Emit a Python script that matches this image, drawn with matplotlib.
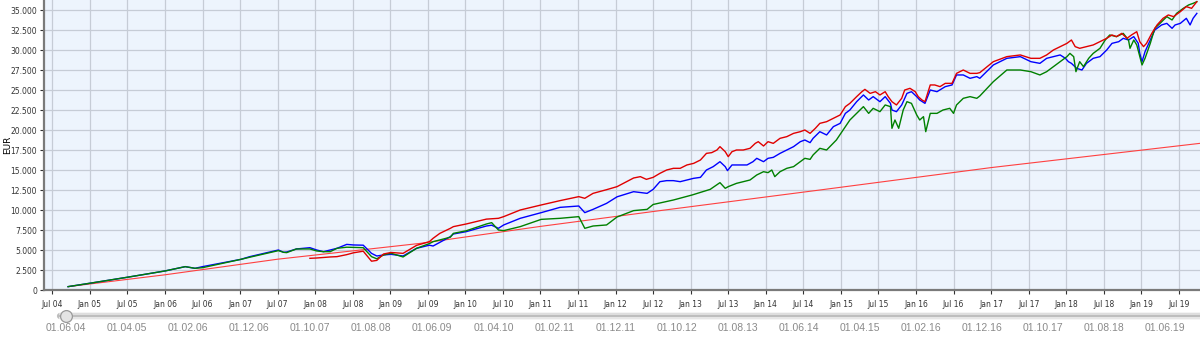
import matplotlib
matplotlib.use("Agg")
import matplotlib.pyplot as plt
from matplotlib.ticker import FuncFormatter, MultipleLocator

# (decimal year, EUR)
blue_pts = [
    (2004.71, 420), (2004.99, 830), (2005.49, 1580), (2006.00, 2380), (2006.27, 2920),
    (2006.40, 2710), (2006.50, 2920), (2007.01, 3830), (2007.13, 4170), (2007.51, 5000),
    (2007.58, 4710), (2007.62, 4750), (2007.75, 5130), (2007.93, 5290), (2008.02, 5000),
    (2008.11, 4790), (2008.20, 5000), (2008.29, 5210), (2008.42, 5700), (2008.51, 5630),
    (2008.64, 5600), (2008.75, 4580), (2008.82, 4250), (2008.91, 4380), (2009.01, 4460),
    (2009.17, 4250), (2009.35, 5210), (2009.52, 5600), (2009.57, 5500), (2009.80, 6670),
    (2009.84, 7000), (2010.01, 7290), (2010.28, 8000), (2010.35, 8100), (2010.44, 7710),
    (2010.51, 8130), (2010.73, 8960), (2011.01, 9670), (2011.26, 10330), (2011.51, 10500),
    (2011.59, 9670), (2011.70, 10080), (2011.88, 10830), (2012.02, 11650), (2012.24, 12290),
    (2012.42, 12080), (2012.50, 12580), (2012.59, 13540), (2012.68, 13670), (2012.77, 13670),
    (2012.86, 13540), (2012.95, 13750), (2013.04, 13960), (2013.13, 14080), (2013.21, 15000),
    (2013.30, 15420), (2013.39, 16040), (2013.46, 15420), (2013.49, 14920), (2013.55, 15630),
    (2013.66, 15630), (2013.75, 15630), (2013.83, 16040), (2013.88, 16460), (2013.97, 16040),
    (2014.03, 16460), (2014.10, 16580), (2014.19, 17080), (2014.28, 17500), (2014.37, 17920),
    (2014.46, 18540), (2014.52, 18750), (2014.59, 18420), (2014.63, 18960), (2014.72, 19790),
    (2014.81, 19380), (2014.90, 20420), (2014.99, 20830), (2015.06, 22080), (2015.12, 22500),
    (2015.21, 23540), (2015.30, 24380), (2015.37, 23750), (2015.43, 24170), (2015.52, 23540),
    (2015.59, 24170), (2015.66, 23330), (2015.68, 22500), (2015.74, 22290), (2015.81, 23130),
    (2015.88, 24580), (2015.94, 24790), (2016.01, 24170), (2016.05, 23750), (2016.12, 23330),
    (2016.19, 25000), (2016.28, 24790), (2016.39, 25420), (2016.48, 25630), (2016.54, 26880),
    (2016.63, 26880), (2016.72, 26460), (2016.81, 26670), (2016.85, 26460), (2017.03, 28130),
    (2017.21, 28960), (2017.39, 29170), (2017.53, 28540), (2017.65, 28330), (2017.74, 28960),
    (2017.83, 29170), (2017.92, 29380), (2017.99, 28960), (2018.03, 28540), (2018.07, 28330),
    (2018.14, 27710), (2018.21, 27500), (2018.27, 28330), (2018.36, 28960), (2018.45, 29170),
    (2018.54, 30000), (2018.61, 30830), (2018.70, 31040), (2018.76, 31460), (2018.83, 31250),
    (2018.90, 31670), (2018.96, 30830), (2018.98, 29580), (2019.01, 28540), (2019.05, 29790),
    (2019.12, 31250), (2019.18, 32500), (2019.27, 33130), (2019.34, 33330), (2019.41, 32710),
    (2019.45, 33130), (2019.52, 33330), (2019.60, 33960), (2019.65, 33130), (2019.69, 33960),
    (2019.74, 34580),
]

green_pts = [
    (2004.71, 420), (2004.99, 830), (2005.49, 1580), (2006.00, 2380), (2006.27, 2920),
    (2006.40, 2710), (2006.50, 2790), (2007.01, 3830), (2007.13, 4100), (2007.51, 4920),
    (2007.58, 4710), (2007.62, 4670), (2007.75, 5130), (2007.93, 5130), (2008.02, 4880),
    (2008.11, 4790), (2008.20, 4790), (2008.29, 5210), (2008.42, 5350), (2008.51, 5330),
    (2008.64, 5290), (2008.75, 4170), (2008.82, 3900), (2008.91, 4380), (2009.01, 4600),
    (2009.17, 4130), (2009.35, 5210), (2009.52, 5800), (2009.57, 6040), (2009.80, 6600),
    (2009.84, 7080), (2010.01, 7400), (2010.28, 8250), (2010.35, 8420), (2010.44, 7500),
    (2010.51, 7420), (2010.73, 7920), (2011.01, 8830), (2011.26, 8960), (2011.51, 9170),
    (2011.59, 7710), (2011.70, 8000), (2011.88, 8130), (2012.02, 9130), (2012.24, 9920),
    (2012.42, 10080), (2012.50, 10690), (2012.77, 11250), (2013.02, 11880), (2013.26, 12580),
    (2013.39, 13420), (2013.46, 12710), (2013.50, 12920), (2013.61, 13330), (2013.70, 13540),
    (2013.79, 13750), (2013.88, 14380), (2013.97, 14790), (2014.03, 14670), (2014.08, 15000),
    (2014.12, 14170), (2014.19, 14790), (2014.28, 15210), (2014.37, 15420), (2014.46, 16040),
    (2014.52, 16460), (2014.59, 16330), (2014.63, 16880), (2014.72, 17710), (2014.81, 17500),
    (2014.94, 18750), (2015.06, 20420), (2015.12, 21250), (2015.21, 22080), (2015.30, 22920),
    (2015.37, 22080), (2015.43, 22710), (2015.52, 22290), (2015.59, 23130), (2015.66, 22920),
    (2015.68, 20210), (2015.72, 21250), (2015.77, 20210), (2015.83, 22500), (2015.88, 23540),
    (2015.94, 23330), (2016.01, 21880), (2016.05, 21250), (2016.10, 21670), (2016.13, 19790),
    (2016.19, 22080), (2016.28, 22080), (2016.36, 22500), (2016.45, 22710), (2016.50, 22080),
    (2016.54, 23130), (2016.63, 23960), (2016.72, 24170), (2016.81, 23960), (2016.85, 24250),
    (2017.03, 26040), (2017.21, 27500), (2017.39, 27500), (2017.53, 27290), (2017.65, 26880),
    (2017.74, 27290), (2017.83, 27920), (2017.92, 28540), (2018.01, 29170), (2018.05, 29580),
    (2018.10, 29170), (2018.13, 27290), (2018.18, 28540), (2018.23, 27920), (2018.30, 28960),
    (2018.36, 29580), (2018.45, 30210), (2018.52, 31250), (2018.58, 31880), (2018.67, 31670),
    (2018.76, 32080), (2018.83, 31250), (2018.85, 30210), (2018.90, 31250), (2018.94, 30630),
    (2018.98, 29170), (2019.01, 28130), (2019.05, 28960), (2019.12, 30830), (2019.18, 32710),
    (2019.25, 33330), (2019.34, 34170), (2019.41, 33750), (2019.47, 34580), (2019.56, 35210),
    (2019.63, 35630), (2019.69, 35830), (2019.74, 36040),
]

red_pts = [
    (2007.93, 3960), (2008.02, 4000), (2008.20, 4130), (2008.29, 4170), (2008.42, 4420),
    (2008.51, 4650), (2008.64, 4850), (2008.75, 3600), (2008.82, 3700), (2008.91, 4500),
    (2009.01, 4690), (2009.17, 4580), (2009.35, 5580), (2009.52, 6040), (2009.57, 6460),
    (2009.66, 7080), (2009.80, 7710), (2009.84, 7920), (2010.01, 8250), (2010.28, 8860),
    (2010.44, 8960), (2010.51, 9170), (2010.73, 10000), (2011.01, 10630), (2011.26, 11170),
    (2011.51, 11670), (2011.59, 11460), (2011.70, 12080), (2011.88, 12540), (2012.02, 12920),
    (2012.24, 14000), (2012.33, 14170), (2012.41, 13830), (2012.50, 14080), (2012.59, 14580),
    (2012.68, 15000), (2012.77, 15210), (2012.86, 15210), (2012.95, 15630), (2013.04, 15830),
    (2013.13, 16250), (2013.21, 17080), (2013.28, 17170), (2013.35, 17500), (2013.39, 17920),
    (2013.46, 17290), (2013.50, 16670), (2013.55, 17290), (2013.61, 17500), (2013.70, 17500),
    (2013.79, 17710), (2013.86, 18330), (2013.90, 18540), (2013.97, 18000), (2014.03, 18540),
    (2014.10, 18330), (2014.19, 18960), (2014.28, 19170), (2014.37, 19580), (2014.46, 19790),
    (2014.52, 20000), (2014.59, 19580), (2014.66, 20210), (2014.72, 20830), (2014.81, 21040),
    (2014.90, 21460), (2014.99, 21880), (2015.06, 22920), (2015.12, 23330), (2015.21, 24170),
    (2015.28, 24790), (2015.32, 25080), (2015.39, 24580), (2015.46, 24790), (2015.52, 24380),
    (2015.59, 24790), (2015.63, 24170), (2015.68, 23540), (2015.74, 23130), (2015.81, 23960),
    (2015.85, 25000), (2015.92, 25210), (2015.99, 24790), (2016.03, 24170), (2016.08, 23750),
    (2016.12, 23540), (2016.19, 25630), (2016.25, 25630), (2016.32, 25420), (2016.39, 25830),
    (2016.48, 25830), (2016.54, 27080), (2016.63, 27500), (2016.72, 27080), (2016.81, 27080),
    (2016.85, 27170), (2017.03, 28540), (2017.21, 29170), (2017.39, 29380), (2017.53, 28960),
    (2017.65, 28960), (2017.74, 29380), (2017.83, 30000), (2017.92, 30420), (2018.01, 30830),
    (2018.07, 31250), (2018.12, 30420), (2018.18, 30210), (2018.27, 30420), (2018.36, 30630),
    (2018.45, 31040), (2018.54, 31460), (2018.61, 31880), (2018.67, 31670), (2018.74, 32080),
    (2018.81, 31460), (2018.87, 31880), (2018.94, 32290), (2018.98, 31040), (2019.03, 30420),
    (2019.07, 30830), (2019.14, 32080), (2019.21, 33130), (2019.29, 33960), (2019.36, 34380),
    (2019.43, 34170), (2019.52, 34790), (2019.60, 35420), (2019.67, 35210), (2019.74, 36040),
]

# paid-in capital (thin line)
t_paid = [2004.71, 2006.00, 2007.50, 2009.40, 2011.00, 2012.59, 2014.72, 2017.00, 2019.78]
paid = [420, 1900, 3850, 5830, 7950, 9920, 12500, 15300, 18330]

range_labels = ["01.06.04", "01.04.05", "01.02.06", "01.12.06", "01.10.07", "01.08.08",
                "01.06.09", "01.04.10", "01.02.11", "01.12.11", "01.10.12", "01.08.13",
                "01.06.14", "01.04.15", "01.02.16", "01.12.16", "01.10.17", "01.08.18",
                "01.06.19"]

W, H = 1200, 342
fig = plt.figure(figsize=(W / 100, H / 100), dpi=100)
fig.patch.set_facecolor("white")

ax = fig.add_axes([44 / W, 52 / H, 1 - 44 / W, 290 / H])
ax.set_facecolor("#edf4fd")
ax.plot(t_paid, paid, color="#ff4040", lw=0.8, zorder=3)
for pts, col, z in [(blue_pts, "#0000ff", 4), (green_pts, "#008000", 5), (red_pts, "#e00000", 6)]:
    tt, vv = zip(*pts)
    ax.plot(tt, vv, color=col, lw=1.0, zorder=z)

ax.set_xlim(2004.389, 2019.782)
ax.set_ylim(0, 36250)

xt = [2004.5 + 0.5 * i for i in range(31)]
ax.set_xticks(xt)
ax.set_xticklabels([("Jul " if (x % 1) else "Jan ") + f"{int(x) % 100:02d}" for x in xt])
ax.yaxis.set_major_locator(MultipleLocator(2500))
ax.yaxis.set_major_formatter(FuncFormatter(lambda v, p: f"{int(v):,}".replace(",", ".")))
ax.tick_params(axis="both", labelsize=5.5, colors="#333333", length=3, width=0.8, pad=2)
ax.tick_params(axis="x", pad=4)
ax.grid(True, color="#c6ccd6", lw=0.9)
ax.set_axisbelow(True)
for s in ["top", "right"]:
    ax.spines[s].set_visible(False)
for s in ["left", "bottom"]:
    ax.spines[s].set_color("#7a7a7a")
    ax.spines[s].set_linewidth(1.6)

fig.text(8 / W, 1 - 145 / H, "EUR", rotation=90, fontsize=6.5, ha="center", va="center")

# range slider under the chart
sl = fig.add_axes([0, 0, 1, 52 / H])
sl.axis("off")
pos = [2000 + int(s[6:]) + (int(s[3:5]) - 1) / 12 for s in range_labels]
px_per_year = (1165 - 66) / (pos[-1] - pos[0])
sl.set_xlim(pos[0] - 66 / px_per_year, pos[0] + (W - 66) / px_per_year)
sl.set_ylim(0, 52)
x0 = pos[0] - 6 / px_per_year
x1 = pos[0] + (W - 66) / px_per_year
sl.plot([x0, x1], [26.5, 26.5], color="#bdbdbd", lw=4.5, solid_capstyle="round")
sl.plot([x0, x1], [28, 28], color="#dedede", lw=1.5)
sl.plot([x0, x1], [24, 24], color="#e6e6e6", lw=1.5)
sl.plot([pos[0]], [26.5], "o", ms=8.5, mfc="#e4e4e4", mec="#9a9a9a", mew=0.9)
for p, s in zip(pos, range_labels):
    sl.text(p, 14, s, fontsize=7.5, color="#8a8a8a", ha="center", va="center",
            family="Liberation Sans")

fig.savefig("out.png", dpi=100)
